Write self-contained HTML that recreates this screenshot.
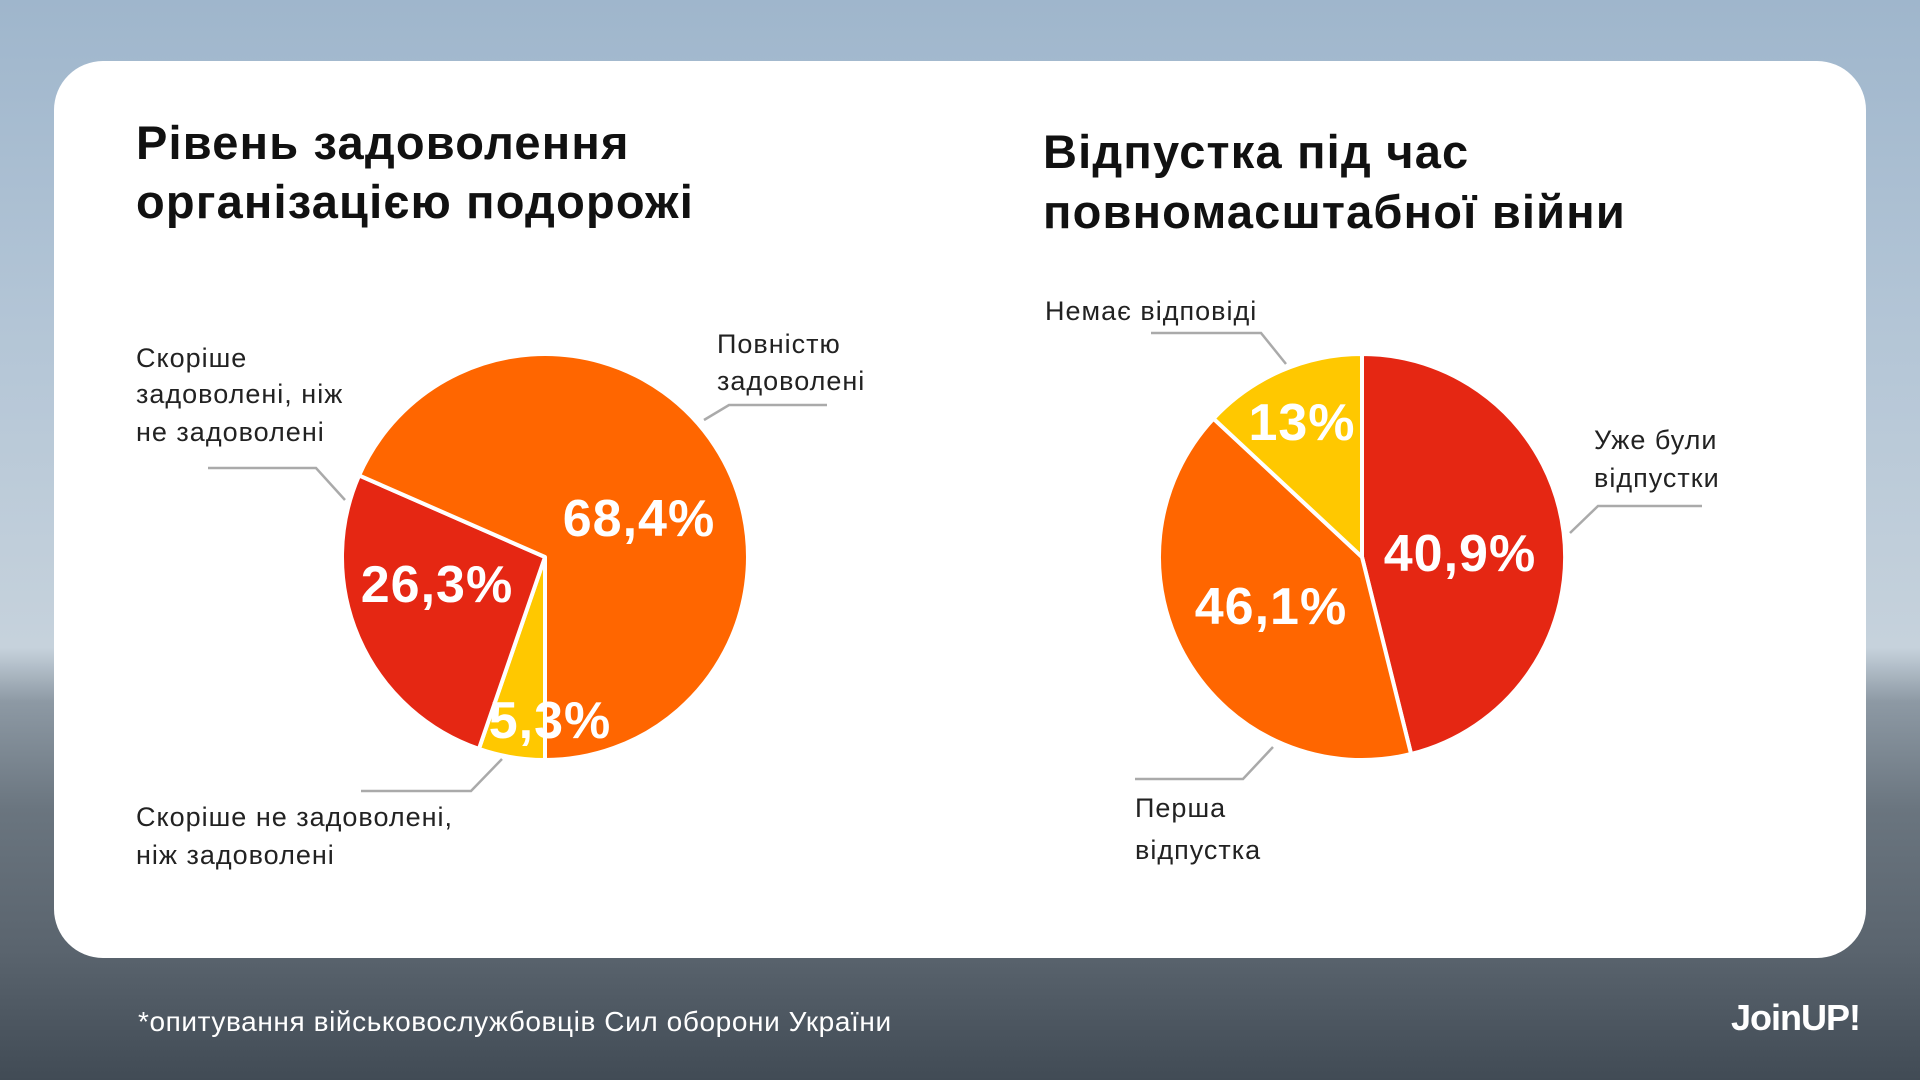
<!DOCTYPE html>
<html><head><meta charset="utf-8"><style>
html,body{margin:0;padding:0;width:1920px;height:1080px;overflow:hidden}
body{background:linear-gradient(180deg,#9fb6cc 0%,#b3c5d6 30%,#c6d2dc 60%,#8d99a4 65%,#6a757f 75%,#5a646e 88%,#414b55 100%);font-family:"Liberation Sans","DejaVu Sans",sans-serif}
svg{position:absolute;left:0;top:0}
</style></head><body>
<svg width="1920" height="1080" viewBox="0 0 1920 1080">
<rect x="54" y="61" width="1812" height="897" rx="49" fill="#fff"/>
<g font-family="Liberation Sans, DejaVu Sans, sans-serif" font-weight="bold" font-size="47" letter-spacing="1.2" fill="#111">
<text x="136" y="159">Рівень задоволення</text>
<text x="136" y="218">організацією подорожі</text>
<text x="1043" y="168">Відпустка під час</text>
<text x="1043" y="228">повномасштабної війни</text>
</g>
<g stroke="#fff" stroke-width="4" stroke-linejoin="round">
<path d="M545,557 L545,760 A203,203 0 0 1 478.9,748.9 Z" fill="#ffc800"/>
<path d="M545,557 L478.9,748.9 A203,203 0 0 1 359.1,475.4 Z" fill="#e52713"/>
<path d="M545,557 L359.1,475.4 A203,203 0 1 1 545,760 Z" fill="#ff6600"/>
<path d="M1362,557 L1362,354 A203,203 0 0 1 1411.1,754 Z" fill="#e52713"/>
<path d="M1362,557 L1411.1,754 A203,203 0 0 1 1213.5,418.6 Z" fill="#ff6600"/>
<path d="M1362,557 L1213.5,418.6 A203,203 0 0 1 1362,354 Z" fill="#ffc800"/>
</g>
<g fill="none" stroke="#aaa" stroke-width="2.5">
<polyline points="704,420 729,405 827,405"/>
<polyline points="208,468 316,468 345,500"/>
<polyline points="361,791 471,791 502,759"/>
<polyline points="1151,333 1261,333 1286,364"/>
<polyline points="1570,533 1598,506 1702,506"/>
<polyline points="1135,779 1243,779 1273,747"/>
</g>
<g font-family="Liberation Sans, DejaVu Sans, sans-serif" font-size="27" letter-spacing="1" fill="#222">
<text x="717" y="353">Повністю</text><text x="717" y="390">задоволені</text>
<text x="136" y="367">Скоріше</text><text x="136" y="403">задоволені, ніж</text><text x="136" y="441">не задоволені</text>
<text x="136" y="826">Скоріше не задоволені,</text><text x="136" y="864">ніж задоволені</text>
<text x="1045" y="320">Немає відповіді</text>
<text x="1594" y="449">Уже були</text><text x="1594" y="487">відпустки</text>
<text x="1135" y="817">Перша</text><text x="1135" y="859">відпустка</text>
</g>
<g font-family="Liberation Sans, DejaVu Sans, sans-serif" font-weight="bold" font-size="52" letter-spacing="1" fill="#fff" text-anchor="middle">
<text x="639" y="536">68,4%</text>
<text x="437" y="602">26,3%</text>
<text x="550" y="738">5,3%</text>
<text x="1460" y="571">40,9%</text>
<text x="1271" y="624">46,1%</text>
<text x="1302" y="440">13%</text>
</g>
<text x="138" y="1031" font-family="Liberation Sans, DejaVu Sans, sans-serif" font-size="28" letter-spacing="0.6" fill="#fff">*опитування військовослужбовців Сил оборони України</text>
<text x="1860" y="1030" text-anchor="end" font-family="Liberation Sans, DejaVu Sans, sans-serif" font-weight="bold" font-size="36" fill="#fff" letter-spacing="-1">JoinUP!</text>
</svg>
</body></html>
